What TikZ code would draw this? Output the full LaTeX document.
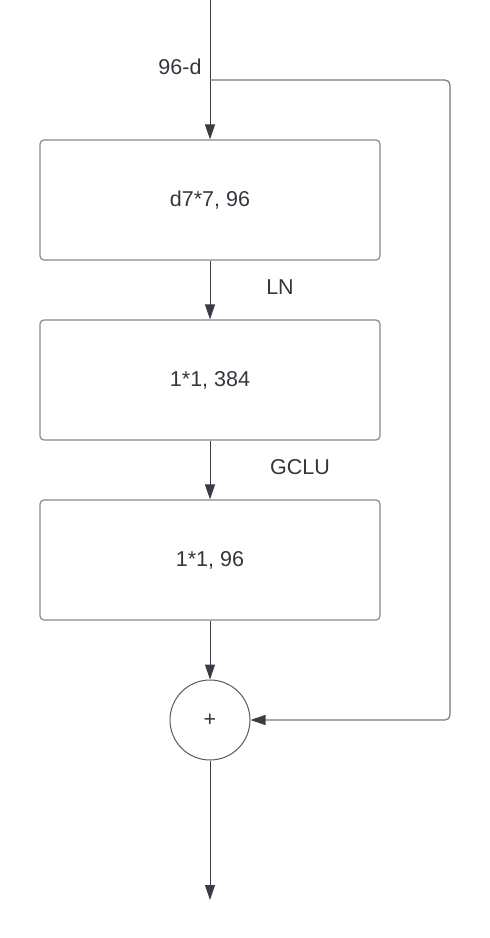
\documentclass[tikz,border=0pt]{standalone}
\usepackage{fontspec}
\setmainfont{Liberation Sans}
\usetikzlibrary{arrows.meta}
\definecolor{arrowc}{HTML}{383D45}
\definecolor{boxc}{HTML}{85888C}
\definecolor{txtc}{HTML}{33373D}
\begin{document}
\begin{tikzpicture}[x=1pt,y=-1pt,
  font=\fontsize{21.5}{25}\selectfont,
  box/.style={draw=boxc,line width=1.2pt,rounded corners=4pt,minimum width=340pt,minimum height=120pt,inner sep=0pt,text=txtc},
  sumnode/.style={draw=arrowc!85,line width=1pt,circle,minimum size=80pt,inner sep=0pt,text=txtc},
  lbl/.style={text=txtc,inner sep=0pt},
  arr/.style={draw=arrowc,line width=1pt,-{Triangle[width=10pt,length=15pt]}},
  byp/.style={draw=boxc!80!arrowc,line width=1.2pt,rounded corners=5pt,-{Triangle[width=10pt,length=15pt,color=arrowc]}}]
\useasboundingbox (0,0) rectangle (490,938);
\coordinate (in) at (210,0);
\coordinate (split) at (210,80);
\node[box] (b1) at (210,200) {d7*7, 96};
\node[box] (b2) at (210,380) {1*1, 384};
\node[box] (b3) at (210,560) {1*1, 96};
\node[sumnode] (sum) at (210,720) {+};
\coordinate (out) at (210,900);
\node[lbl] (l96) at (180,67) {96-d};
\node[lbl] (lln) at (280,287) {LN};
\node[lbl] (lgclu) at (300,467) {GCLU};
\draw[arr] (in) -- (b1.north);
\draw[arr] (b1.south) -- (b2.north);
\draw[arr] (b2.south) -- (b3.north);
\draw[arr] (b3.south) -- (sum.north);
\draw[arr] (sum.south) -- (out);
\draw[byp] (split) -- (450,80) -- (450,720) -- (sum.east);
\end{tikzpicture}
\end{document}
